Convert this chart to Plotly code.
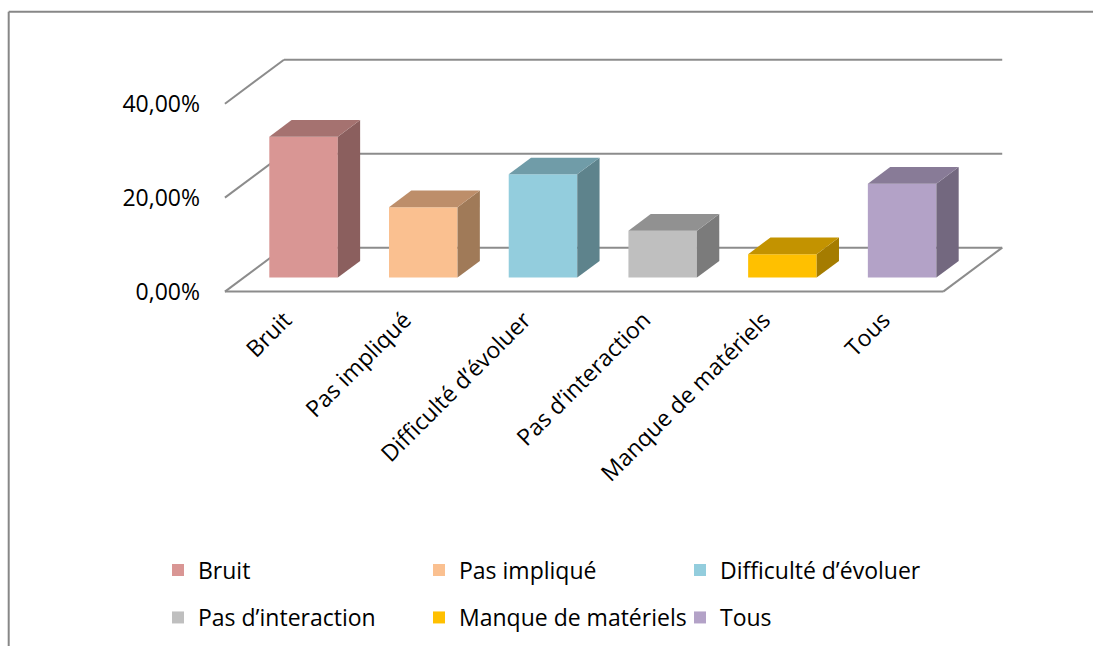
import plotly.graph_objects as go

# ---- data -------------------------------------------------------------
categories = ["Bruit", "Pas impliqué", "Difficulté d’évoluer",
              "Pas d’interaction", "Manque de matériels", "Tous"]
values = [30, 15, 22, 10, 5, 20]          # percent
y_ticks = [0, 20, 40]
y_tick_labels = ["0,00%", "20,00%", "40,00%"]

# face colours: front / top / side
front_colors = ["#D99694", "#FAC090", "#93CDDD", "#BFBFBF", "#FFC000", "#B3A2C7"]
top_colors = ["#A57270", "#BD8E6A", "#709CA8", "#919191", "#C39300", "#887B97"]
side_colors = ["#8B5F5E", "#A07A58", "#5E838C", "#7B7B7B", "#A57C00", "#73687F"]

# ---- oblique 3-D projection constants ----------------------------------
DX = 0.493      # horizontal shift of the full floor depth (category units)
DY = 9.36       # vertical shift of the full floor depth (percent units)
Z0 = 0.318      # depth of the bars' front faces (fraction of floor depth)
ZD = 0.378      # bar depth (fraction of floor depth)
BAR_W = 0.5725  # bar width (category units)

FONT = "Open Sans"
FS = 23
GRID = "#8C8C8C"

W, H = 1093, 646
ML, MR, MT, MB = 201, 66, 52, 345
XR = [-0.7, 6.2]
YR = [-2, 51]
PW, PH = W - ML - MR, H - MT - MB

n = len(categories)
x_lo, x_hi = -0.5, n - 0.5

fig = go.Figure()

# front faces of the bars (one trace per category -> legend entries)
for i, (cat, v) in enumerate(zip(categories, values)):
    fig.add_trace(go.Bar(
        x=[i + Z0 * DX], y=[v], base=[Z0 * DY], width=[BAR_W],
        marker=dict(color=front_colors[i], line=dict(width=0)),
        name=cat, legend="legend" if i < 3 else "legend2",
        hoverinfo="skip"))

# top and right-side faces derived from the same values
ddx, ddy = ZD * DX, ZD * DY
for i, v in enumerate(values):
    xl = i + Z0 * DX - BAR_W / 2
    xr = i + Z0 * DX + BAR_W / 2
    b = Z0 * DY
    t = b + v
    fig.add_trace(go.Scatter(
        x=[xr, xr, xr + ddx, xr + ddx, xr], y=[b, t, t + ddy, b + ddy, b],
        mode="lines", fill="toself", fillcolor=side_colors[i],
        line=dict(width=0, color=side_colors[i]),
        showlegend=False, hoverinfo="skip"))
    fig.add_trace(go.Scatter(
        x=[xl, xr, xr + ddx, xl + ddx, xl], y=[t, t, t + ddy, t + ddy, t],
        mode="lines", fill="toself", fillcolor=top_colors[i],
        line=dict(width=0, color=top_colors[i]),
        showlegend=False, hoverinfo="skip"))

# walls: left diagonals + back gridlines at each tick, floor outline
shapes = []
for v in y_ticks:
    shapes.append(dict(type="line", xref="x", yref="y", layer="below",
                       x0=x_lo, y0=v, x1=x_lo + DX, y1=v + DY,
                       line=dict(color=GRID, width=2)))
    shapes.append(dict(type="line", xref="x", yref="y", layer="below",
                       x0=x_lo + DX, y0=v + DY, x1=x_hi + DX, y1=v + DY,
                       line=dict(color=GRID, width=2)))
shapes.append(dict(type="line", xref="x", yref="y", layer="below",
                   x0=x_lo, y0=0, x1=x_hi, y1=0,
                   line=dict(color=GRID, width=2)))
shapes.append(dict(type="line", xref="x", yref="y", layer="below",
                   x0=x_hi, y0=0, x1=x_hi + DX, y1=DY,
                   line=dict(color=GRID, width=2)))


# outer chart frame (top and left edges)
def px_x(px):
    return (px - ML) / PW


def px_y(py):
    return 1 - (py - MT) / PH


shapes.append(dict(type="line", xref="paper", yref="paper",
                   x0=px_x(8.7), y0=px_y(11.7), x1=px_x(W + 5), y1=px_y(11.7),
                   line=dict(color="#878787", width=2)))
shapes.append(dict(type="line", xref="paper", yref="paper",
                   x0=px_x(8.7), y0=px_y(11.7), x1=px_x(8.7), y1=px_y(H + 5),
                   line=dict(color="#878787", width=2)))

legend_common = dict(
    orientation="h", xref="container", yref="container",
    xanchor="left", yanchor="middle",
    entrywidth=216, entrywidthmode="pixels",
    font=dict(family=FONT, size=FS, color="#000000"),
    bgcolor="rgba(0,0,0,0)", itemclick=False, itemdoubleclick=False,
)

fig.update_layout(
    width=W, height=H,
    margin=dict(l=ML, r=MR, t=MT, b=MB),
    paper_bgcolor="white", plot_bgcolor="white",
    barmode="overlay",
    font=dict(family=FONT, size=FS, color="#000000"),
    shapes=shapes,
    xaxis=dict(range=XR, tickvals=list(range(n)), ticktext=categories,
               tickangle=-45, showgrid=False, zeroline=False, showline=False,
               ticks="", tickfont=dict(family=FONT, size=FS, color="#000000")),
    yaxis=dict(range=YR, tickvals=y_ticks, ticktext=y_tick_labels,
               showgrid=False, zeroline=False, showline=False, ticks="",
               tickfont=dict(family=FONT, size=FS, color="#000000")),
    legend=dict(x=158 / W, y=1 - 570 / H, **legend_common),
    legend2=dict(x=158 / W, y=1 - 617.5 / H, **legend_common),
    showlegend=True,
)

fig.write_html("out.html")
